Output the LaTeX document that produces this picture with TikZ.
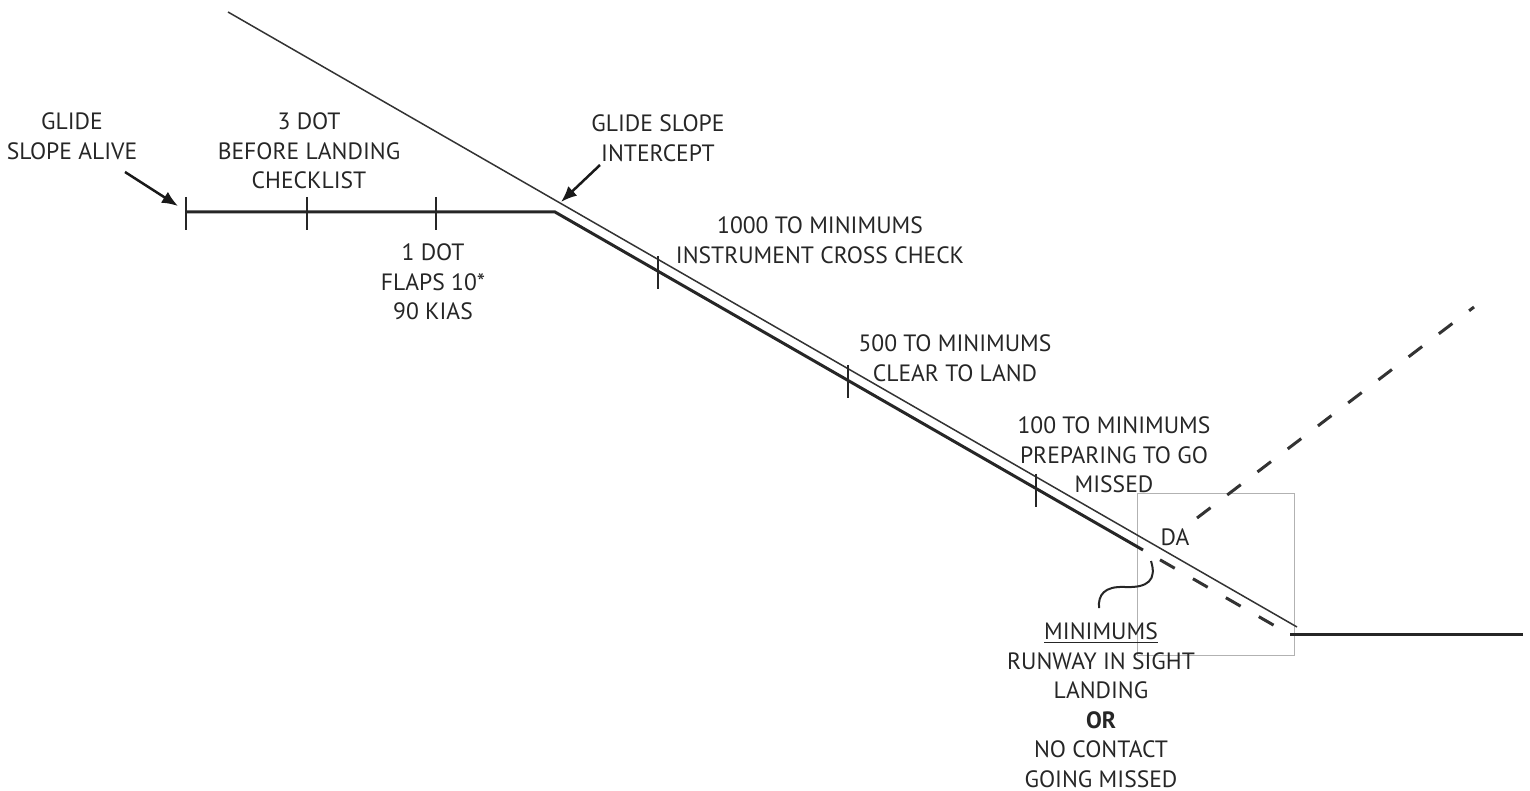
\documentclass[tikz,border=0pt]{standalone}
\usepackage{fontspec}
\setmainfont{PT Sans}
\usetikzlibrary{arrows.meta}
\begin{document}
\begin{tikzpicture}[x=0.5pt,y=-0.5pt,
  lbl/.style={align=center,font=\fontsize{11.8}{14.75}\selectfont,inner sep=0pt,text=black!85},
  gsline/.style={line width=0.75pt,black!80},
  pathline/.style={line width=1.5pt,black!85},
  tickline/.style={line width=1pt,black!85},
  dashline/.style={line width=1.5pt,black!80,dash pattern={on 8.5pt off 10.5pt}},
  boxline/.style={line width=0.5pt,black!30},
  arr/.style={line width=1.25pt,black!90,-{Latex[length=8pt,width=6.5pt]}},
  curveline/.style={line width=1pt,black!85}
]
\useasboundingbox (0,0) rectangle (1530,791);
% key points
\coordinate (gsA) at (228,12);
\coordinate (gsB) at (1297,627);
\coordinate (alive) at (186,212);
\coordinate (tk2) at (307,212);
\coordinate (tk3) at (436,212);
\coordinate (bend) at (555,212);
\coordinate (tk4) at (658,271.2);
\coordinate (tk5) at (848,380.4);
\coordinate (tk6) at (1036,488.5);
\coordinate (daPt) at (1143,550);
\coordinate (dash0) at (1160,559.8);
\coordinate (rwy) at (1290,634.6);
\coordinate (rwyEnd) at (1523,634.6);
\coordinate (ma0) at (1197,518);
\coordinate (ma1) at (1474,307);
\coordinate (arrAliveS) at (125,172);
\coordinate (arrAliveE) at (178,206);
\coordinate (arrIntS) at (600,165);
\coordinate (arrIntE) at (561,202);
\coordinate (crvS) at (1151,561);
\coordinate (crvM) at (1125,587);
\coordinate (crvE) at (1099,608);

% gray box
\draw[boxline] (1137,493) rectangle (1294,655);

% glide slope (thin)
\draw[gsline] (gsA) -- (gsB);
% flight path (thick)
\draw[pathline] (alive) -- (bend) -- (daPt);
\draw[dashline] (dash0) -- (rwy);
\draw[pathline] (rwy) -- (rwyEnd);
% missed approach
\draw[dashline] (ma0) -- (ma1);

% ticks
\foreach \t in {alive,tk2,tk3,tk4,tk5,tk6}
  \draw[tickline] (\t) ++(0,-15) -- ++(0,33);

% arrows
\draw[arr] (arrAliveS) -- (arrAliveE);
\draw[arr] (arrIntS) -- (arrIntE);

% curve
\draw[curveline] (crvS) .. controls (1157,580) and (1148,588) .. (crvM)
  .. controls (1104,586) and (1098,595) .. (crvE);

% labels
\node[lbl] (lAlive) at (72,136) {GLIDE\\SLOPE ALIVE};
\node[lbl] (lThree) at (309,151) {3 DOT\\BEFORE LANDING\\CHECKLIST};
\node[lbl] (lOne) at (433,282) {1 DOT\\FLAPS 10*\\90 KIAS};
\node[lbl] (lInt) at (658,138) {GLIDE SLOPE\\INTERCEPT};
\node[lbl] (lThousand) at (820,240) {1000 TO MINIMUMS\\INSTRUMENT CROSS CHECK};
\node[lbl] (lFive) at (955,358) {500 TO MINIMUMS\\CLEAR TO LAND};
\node[lbl] (lHundred) at (1114,455) {100 TO MINIMUMS\\PREPARING TO GO\\MISSED};
\node[lbl] (lDA) at (1175,537) {DA};
\node[lbl] (lMin) at (1101,705) {\underline{MINIMUMS}\\RUNWAY IN SIGHT\\LANDING\\\textbf{OR}\\NO CONTACT\\GOING MISSED};
\end{tikzpicture}
\end{document}
